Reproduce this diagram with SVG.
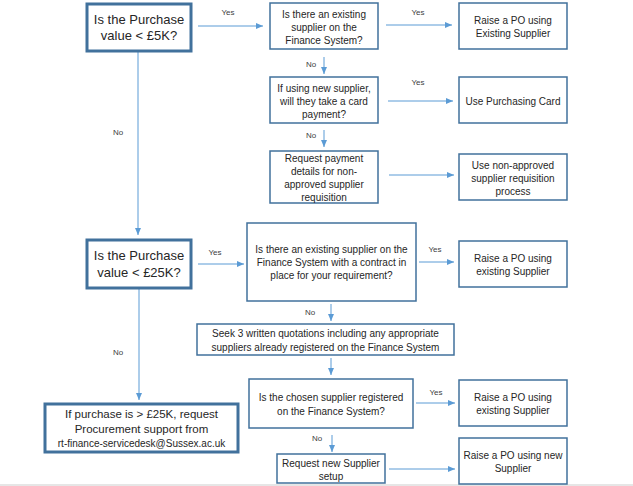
<svg xmlns="http://www.w3.org/2000/svg" width="633" height="486" viewBox="0 0 633 486">
<style>
.b{fill:#fff;stroke:#41719C;stroke-width:1.5}
.bt{fill:#fff;stroke:#41719C;stroke-width:3}
.t{font-family:"Liberation Sans",Arial,sans-serif;font-size:10px;fill:#262626;text-anchor:middle}
.tl{font-family:"Liberation Sans",Arial,sans-serif;font-size:13px;fill:#262626;text-anchor:middle}
.tm{font-family:"Liberation Sans",Arial,sans-serif;font-size:11.5px;fill:#262626;text-anchor:middle}
.l{font-family:"Liberation Sans",Arial,sans-serif;font-size:8px;fill:#404040;text-anchor:middle}
.c{stroke:#5B9BD5;stroke-width:1;fill:none;marker-end:url(#ah)}
</style>
<defs>
<marker id="ah" markerUnits="userSpaceOnUse" markerWidth="8" markerHeight="8" viewBox="0 0 8 8" refX="7" refY="4" orient="auto">
<path d="M0,1 L7,4 L0,7 Z" fill="#5B9BD5"/>
</marker>
</defs>
<rect x="0" y="0" width="633" height="486" fill="#fff"/>
<rect x="0" y="484" width="633" height="2" fill="#e6e6e6"/>
<g id="connectors">
<line class="c" x1="198" y1="26" x2="263" y2="26"/>
<line class="c" x1="386" y1="25" x2="452" y2="25"/>
<line class="c" x1="324" y1="57" x2="324" y2="74"/>
<line class="c" x1="388" y1="101" x2="453" y2="101"/>
<line class="c" x1="324" y1="130" x2="324" y2="147"/>
<line class="c" x1="389" y1="175" x2="454" y2="175"/>
<line class="c" x1="138" y1="51" x2="138" y2="235"/>
<line class="c" x1="198" y1="264" x2="244" y2="264"/>
<line class="c" x1="419" y1="262" x2="454" y2="262"/>
<line class="c" x1="331" y1="304" x2="331" y2="321"/>
<line class="c" x1="331" y1="358" x2="331" y2="375"/>
<line class="c" x1="416" y1="403" x2="455" y2="403"/>
<line class="c" x1="332" y1="435" x2="332" y2="452"/>
<line class="c" x1="389" y1="469" x2="455" y2="469"/>
<line class="c" x1="139" y1="288" x2="139" y2="400"/>
<text class="l" x="228" y="15">Yes</text>
<text class="l" x="418" y="15">Yes</text>
<text class="l" x="311" y="67">No</text>
<text class="l" x="418" y="85">Yes</text>
<text class="l" x="311" y="138">No</text>
<text class="l" x="118" y="135">No</text>
<text class="l" x="215" y="255">Yes</text>
<text class="l" x="435" y="252">Yes</text>
<text class="l" x="310" y="315">No</text>
<text class="l" x="118" y="355">No</text>
<text class="l" x="436" y="395">Yes</text>
<text class="l" x="317" y="441">No</text>
</g>
<g id="n1"><rect class="bt" x="87" y="4" width="104" height="47"/>
<text class="tl" x="139" y="24">Is the Purchase</text><text class="tl" x="139" y="40">value &lt; £5K?</text></g>
<g id="n2"><rect class="b" x="270" y="3" width="108" height="46"/>
<text class="t" x="324" y="17.5">Is there an existing</text><text class="t" x="324" y="30.5">supplier on the</text><text class="t" x="324" y="43.5">Finance System?</text></g>
<g id="n3"><rect class="b" x="459" y="3" width="108" height="46"/>
<text class="t" x="513" y="23.5">Raise a PO using</text><text class="t" x="513" y="36.5">Existing Supplier</text></g>
<g id="n4"><rect class="b" x="270" y="77" width="108" height="46"/>
<text class="t" x="324" y="91.5">If using new supplier,</text><text class="t" x="324" y="104.5">will they take a card</text><text class="t" x="324" y="117.5">payment?</text></g>
<g id="n5"><rect class="b" x="459" y="77" width="108" height="46"/>
<text class="t" x="513" y="104.5">Use Purchasing Card</text></g>
<g id="n6"><rect class="b" x="270" y="151" width="108" height="52"/>
<text class="t" x="324" y="161.5">Request payment</text><text class="t" x="324" y="174.5">details for non-</text><text class="t" x="324" y="187.5">approved supplier</text><text class="t" x="324" y="200.5">requisition</text></g>
<g id="n7"><rect class="b" x="459" y="154" width="108" height="46"/>
<text class="t" x="513" y="168.5">Use non-approved</text><text class="t" x="513" y="181.5">supplier requisition</text><text class="t" x="513" y="194.5">process</text></g>
<g id="n8"><rect class="bt" x="87" y="240" width="104" height="48"/>
<text class="tl" x="139" y="260">Is the Purchase</text><text class="tl" x="139" y="277">value &lt; £25K?</text></g>
<g id="n9"><rect class="b" x="247" y="223" width="169" height="78"/>
<text class="t" x="331.5" y="252.5">Is there an existing supplier on the</text><text class="t" x="331.5" y="265.5">Finance System with a contract in</text><text class="t" x="331.5" y="278.5">place for your requirement?</text></g>
<g id="n10"><rect class="b" x="459" y="241" width="108" height="46"/>
<text class="t" x="513" y="261.5">Raise a PO using</text><text class="t" x="513" y="274.5">existing Supplier</text></g>
<g id="n11"><rect class="b" x="197" y="324" width="257" height="31"/>
<text class="t" x="325.5" y="336.5">Seek 3 written quotations including any appropriate</text><text class="t" x="325.5" y="350.5">suppliers already registered on the Finance System</text></g>
<g id="n12"><rect class="b" x="249" y="379" width="164" height="49"/>
<text class="t" x="331" y="400.5">Is the chosen supplier registered</text><text class="t" x="331" y="414.5">on the Finance System?</text></g>
<g id="n13"><rect class="b" x="459" y="380" width="108" height="46"/>
<text class="t" x="513" y="400.5">Raise a PO using</text><text class="t" x="513" y="413.5">existing Supplier</text></g>
<g id="n14"><rect class="b" x="277" y="454" width="108" height="29"/>
<text class="t" x="331" y="466.5">Request new Supplier</text><text class="t" x="331" y="479.5">setup</text></g>
<g id="n15"><rect class="b" x="459" y="438" width="108" height="46"/>
<text class="t" x="513" y="458.5">Raise a PO using new</text><text class="t" x="513" y="471.5">Supplier</text></g>
<g id="n16"><rect class="bt" x="45" y="404" width="193" height="48"/>
<text class="tm" x="141.5" y="418">If purchase is &gt; £25K, request</text><text class="tm" x="141.5" y="433">Procurement support from</text><text class="t" x="141.5" y="447">rt-finance-servicedesk@Sussex.ac.uk</text></g>
</svg>
